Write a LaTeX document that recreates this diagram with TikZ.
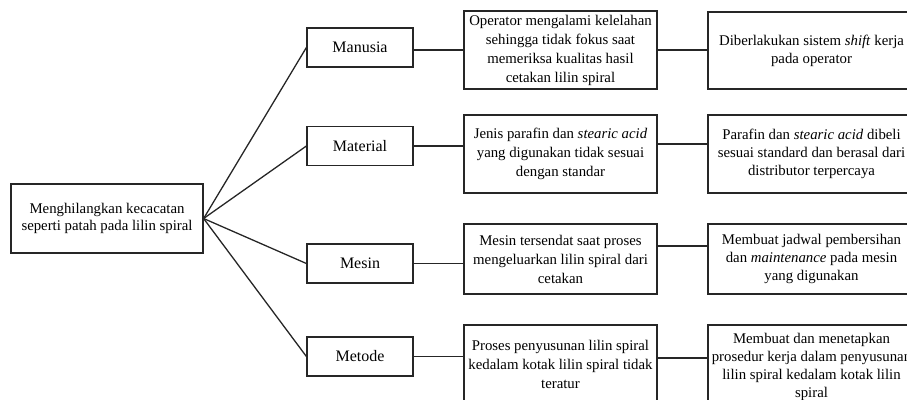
\documentclass[tikz,border=0pt]{standalone}
\usepackage{fontspec}
\setmainfont{Liberation Serif}
\begin{document}
\begin{tikzpicture}[x=1pt,y=-1pt,
  box/.style={draw=black!85, line width=1.2pt, align=center, inner sep=0pt, font=\fontsize{14.8}{19}\selectfont},
  catbox/.style={box, minimum width=106pt, minimum height=39pt, font=\fontsize{16}{19}\selectfont},
  causebox/.style={box, minimum width=193pt},
  solbox/.style={box, minimum width=207pt, font=\fontsize{14.8}{18}\selectfont},
  conn/.style={draw=black!85, line width=1.3pt}]
\useasboundingbox (0,0) rectangle (907,399);
\clip (0,0) rectangle (907,399);

\node[box, minimum width=192pt, minimum height=69pt, font=\fontsize{14.8}{17}\selectfont] (root) at (107,218.5)
  {Menghilangkan kecacatan\\seperti patah pada lilin spiral};

\node[catbox] (k1) at (360,47.5) {Manusia};
\node[catbox] (k2) at (360,146) {Material};
\node[catbox] (k3) at (360,263.5) {Mesin};
\node[catbox] (k4) at (360,356.5) {Metode};

\node[causebox, minimum height=78pt] (c1) at (560.5,50)
  {Operator mengalami kelelahan\\sehingga tidak fokus saat\\memeriksa kualitas hasil\\cetakan lilin spiral};
\node[causebox, minimum height=78pt] (c2) at (560.5,154)
  {Jenis parafin dan \textit{stearic acid}\\yang digunakan tidak sesuai\\dengan standar};
\node[causebox, minimum height=70pt] (c3) at (560.5,259)
  {Mesin tersendat saat proses\\mengeluarkan lilin spiral dari\\cetakan};
\node[causebox, minimum height=78pt] (c4) at (560.5,364)
  {Proses penyusunan lilin spiral\\kedalam kotak lilin spiral tidak\\teratur};

\node[solbox, minimum height=77pt] (s1) at (811.5,50.5)
  {Diberlakukan sistem \textit{shift} kerja\\pada operator};
\node[solbox, minimum height=78pt] (s2) at (811.5,154)
  {Parafin dan \textit{stearic acid} dibeli\\sesuai standard dan berasal dari\\distributor terpercaya};
\node[solbox, minimum height=70pt] (s3) at (811.5,259)
  {Membuat jadwal pembersihan\\dan \textit{maintenance} pada mesin\\yang digunakan};
\node[solbox, minimum height=84pt] (s4) at (811.5,367)
  {Membuat dan menetapkan\\prosedur kerja dalam penyusunan\\lilin spiral kedalam kotak lilin\\spiral};

\foreach \k in {k1,k2,k3,k4}
  \draw[conn] (root.east) -- (\k.west);

\draw[conn] ([yshift=-2.5pt]k1.east) -- ([yshift=-2.5pt]k1.east -| c1.west);
\draw[conn] (k2.east) -- (k2.east -| c2.west);
\draw[conn] (k3.east) -- (k3.east -| c3.west);
\draw[conn] (k4.east) -- (k4.east -| c4.west);

\draw[conn] (c1.east) -- (c1.east -| s1.west);
\draw[conn] ([yshift=10pt]c2.east) -- ([yshift=10pt]c2.east -| s2.west);
\draw[conn] ([yshift=13pt]c3.east) -- ([yshift=13pt]c3.east -| s3.west);
\draw[conn] ([yshift=6pt]c4.east) -- ([yshift=6pt]c4.east -| s4.west);
\end{tikzpicture}
\end{document}
